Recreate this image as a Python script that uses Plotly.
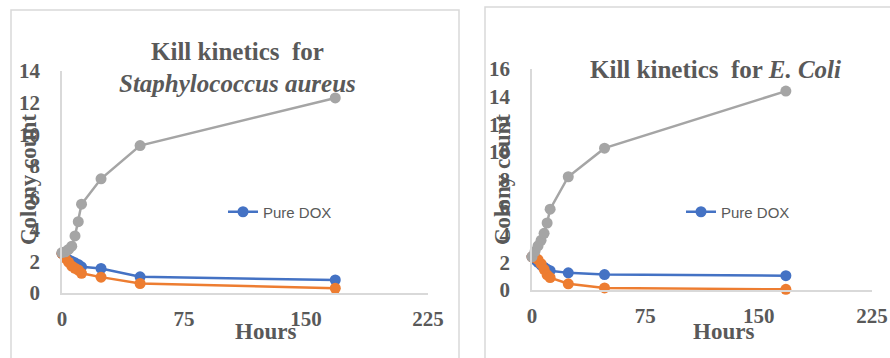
import plotly.graph_objects as go

# Sampling times (hours)
hours = [0, 2, 4, 6, 8, 10, 12, 24, 48, 168]

# Staphylococcus aureus colony counts
sa_pure_dox = [2.5, 2.3, 2.1, 2.0, 1.9, 1.8, 1.65, 1.55, 1.02, 0.82]
sa_dox_formulation = [2.5, 2.2, 1.95, 1.7, 1.56, 1.45, 1.24, 1.0, 0.6, 0.3]
sa_control = [2.55, 2.6, 2.75, 2.95, 3.6, 4.5, 5.6, 7.2, 9.3, 12.3]

# E. coli colony counts
ec_pure_dox = [2.4, 2.2, 2.0, 1.8, 1.65, 1.5, 1.4, 1.24, 1.12, 1.04]
ec_dox_formulation = [2.4, 2.35, 2.2, 1.9, 1.5, 1.1, 0.9, 0.45, 0.15, 0.05]
ec_control = [2.4, 2.8, 3.2, 3.6, 4.1, 4.85, 5.85, 8.2, 10.27, 14.4]

x_ticks = [0, 75, 150, 225]
sa_y_ticks = [0, 2, 4, 6, 8, 10, 12, 14]
ec_y_ticks = [0, 2, 4, 6, 8, 10, 12, 14, 16]

W, H = 890, 358
BLUE, ORANGE, GRAY = "#4472C4", "#ED7D31", "#A5A5A5"
TXT = "#595959"
SERIF = "Liberation Serif"


def px_x(v):
    return v / W


def px_y(v):
    return 1 - v / H


fig = go.Figure()


def add_panel(xa, ya, pure, form, ctrl, legend):
    common = dict(x=hours, xaxis=xa, yaxis=ya, mode="lines+markers",
                  cliponaxis=False, line=dict(width=2.5), marker=dict(size=11))
    fig.add_trace(go.Scatter(y=pure, name="Pure DOX", legend=legend,
                             line_color=BLUE, marker_color=BLUE, **common))
    fig.add_trace(go.Scatter(y=form, name="DOX formulation", showlegend=False,
                             line_color=ORANGE, marker_color=ORANGE, **common))
    fig.add_trace(go.Scatter(y=ctrl, name="Control", showlegend=False,
                             line_color=GRAY, marker_color=GRAY, **common))


add_panel("x", "y", sa_pure_dox, sa_dox_formulation, sa_control, "legend")
add_panel("x2", "y2", ec_pure_dox, ec_dox_formulation, ec_control, "legend2")

tick_font = dict(family=SERIF, size=21, color=TXT, weight="bold")
xaxis_common = dict(range=[0, 225], tickvals=x_ticks, showline=True,
                    linecolor="#D9D9D9", linewidth=1.5, showgrid=False,
                    zeroline=False, ticks="", tickfont=tick_font,
                    ticklabelstandoff=6, automargin=False)
yaxis_common = dict(showline=True, linecolor="#D9D9D9", linewidth=1.5,
                    showgrid=False, zeroline=False, ticks="",
                    tickfont=tick_font, ticklabelstandoff=16, automargin=False)

legend_common = dict(font=dict(family="Liberation Sans", size=15, color=TXT),
                     bgcolor="rgba(0,0,0,0)", xanchor="left", yanchor="middle")

fig.update_layout(
    width=W, height=H,
    margin=dict(l=0, r=0, t=0, b=0, autoexpand=False),
    paper_bgcolor="white", plot_bgcolor="white",
    xaxis=dict(domain=[px_x(62), px_x(428)], anchor="y", **xaxis_common),
    yaxis=dict(domain=[px_y(293), px_y(71)], anchor="x", range=[0, 14],
               tickvals=sa_y_ticks, **yaxis_common),
    xaxis2=dict(domain=[px_x(532), px_x(872)], anchor="y2", **xaxis_common),
    yaxis2=dict(domain=[px_y(290), px_y(69)], anchor="x2", range=[0, 16],
                tickvals=ec_y_ticks, **yaxis_common),
    legend=dict(x=px_x(223), y=px_y(212), **legend_common),
    legend2=dict(x=px_x(681), y=px_y(212), **legend_common),
    showlegend=True,
)

# Panel frames
for x0, y0, x1 in [(11, 10, 459), (485, 7, 895)]:
    fig.add_shape(type="rect", xref="paper", yref="paper",
                  x0=px_x(x0), x1=px_x(x1), y0=px_y(H + 10), y1=px_y(y0),
                  line=dict(color="#D9D9D9", width=1.5), fillcolor="rgba(0,0,0,0)",
                  layer="below")

title_font = dict(family=SERIF, size=25, color=TXT, weight="bold")
axis_title_font = dict(family=SERIF, size=23, color=TXT, weight="bold")

annotations = [
    dict(x=px_x(237), y=px_y(52), text="Kill kinetics  for", font=title_font),
    dict(x=px_x(237), y=px_y(84), text="<i>Staphylococcus aureus</i>", font=title_font),
    dict(x=px_x(715), y=px_y(70), text="Kill kinetics  for <i>E. Coli</i>", font=title_font),
    dict(x=px_x(265), y=px_y(331), text="Hours", font=axis_title_font),
    dict(x=px_x(723), y=px_y(331), text="Hours", font=axis_title_font),
    dict(x=px_x(28), y=px_y(180), text="Colony count", textangle=-90, font=axis_title_font),
    dict(x=px_x(502), y=px_y(180), text="Colony count", textangle=-90, font=axis_title_font),
]
for a in annotations:
    fig.add_annotation(xref="paper", yref="paper", showarrow=False,
                       xanchor="center", yanchor="middle", **a)

fig.write_html("out.html")
